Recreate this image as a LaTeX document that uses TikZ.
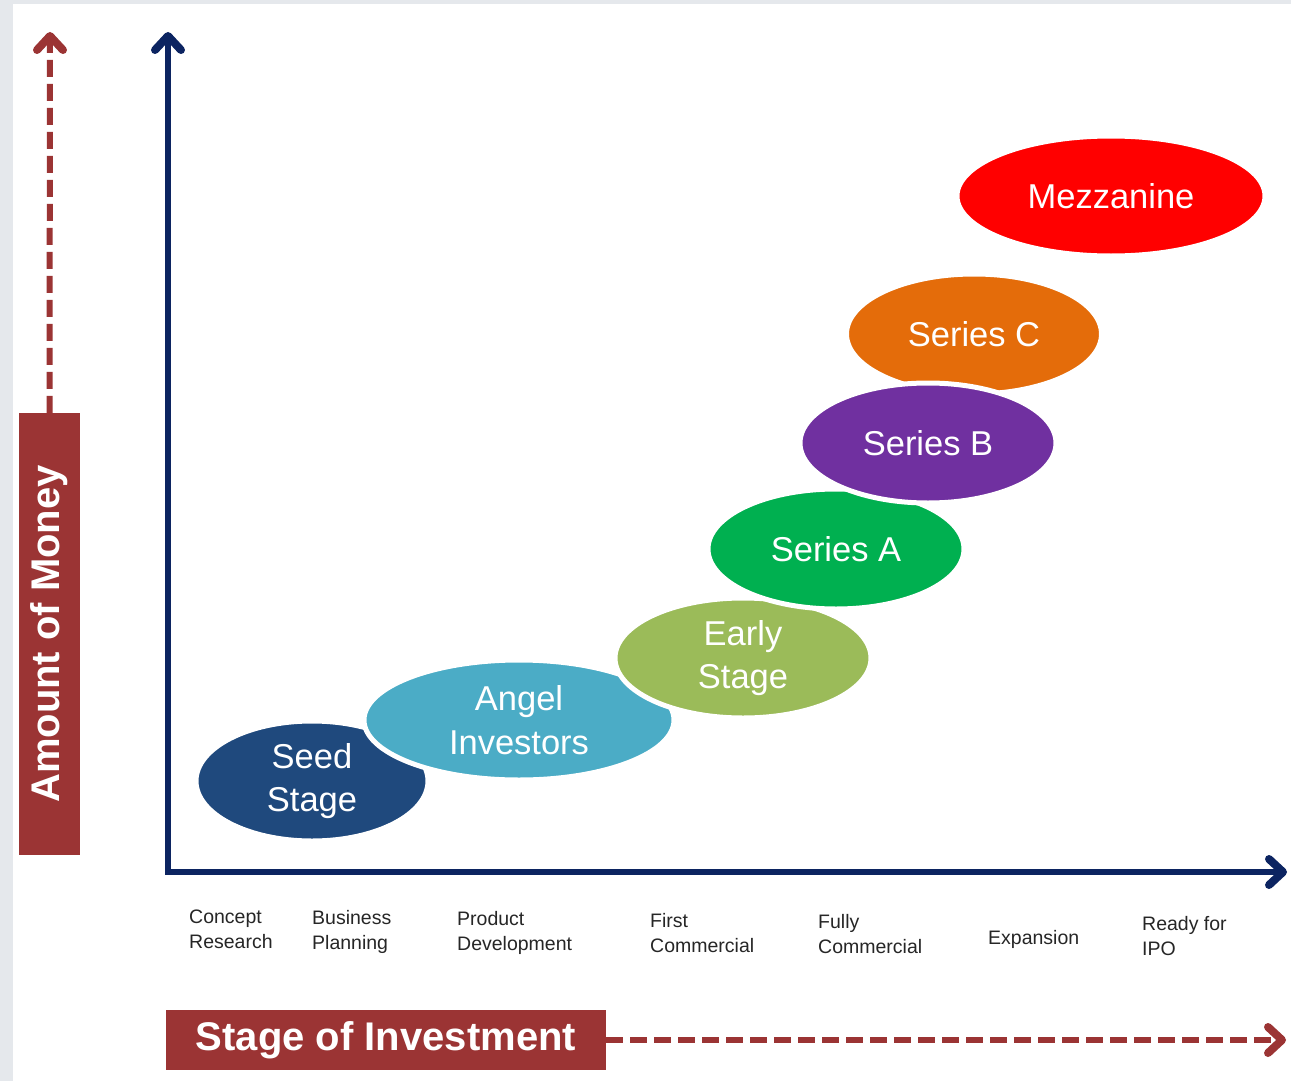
\documentclass[tikz,border=0pt]{standalone}
\usepackage{fontspec}
\setmainfont{Liberation Sans}
\usetikzlibrary{shapes.geometric,arrows.meta}
\definecolor{navy}{RGB}{12,36,97}
\definecolor{brick}{RGB}{155,52,52}
\definecolor{seedc}{RGB}{31,73,125}
\definecolor{angelc}{RGB}{75,172,198}
\definecolor{earlyc}{RGB}{155,187,89}
\definecolor{seriesac}{RGB}{0,176,80}
\definecolor{seriesbc}{RGB}{112,48,160}
\definecolor{seriescc}{RGB}{228,108,10}
\definecolor{mezzc}{RGB}{255,0,0}
\definecolor{labelc}{RGB}{38,38,38}
\definecolor{edgec}{RGB}{229,232,236}
\newcommand{\myfs}[2]{\fontsize{#1}{#2}\selectfont}
\begin{document}
\begin{tikzpicture}[x=1pt,y=-1pt,
  bubble/.style={ellipse, draw=white, line width=5pt, inner sep=0pt, text=white,
    align=center, font=\myfs{34.5}{43.5}},
  stagelbl/.style={anchor=west, inner sep=0pt, align=left, text=labelc,
    font=\myfs{19.5}{25}},
  titlebox/.style={fill=brick, text=white, inner sep=0pt, font=\bfseries\myfs{40}{48}},
  axis/.style={draw=navy, line width=5.5pt, line join=miter, shorten <=4pt, shorten >=4pt},
  dashline/.style={draw=brick, line width=6pt, dash pattern=on 17pt off 7pt, shorten >=4pt},
  chevron/.style={line width=8pt, line cap=round, line join=round}
]
\useasboundingbox (0,0) rectangle (1291,1081);
% background
\fill[edgec] (0,0) rectangle (1291,1081);
\fill[white] (13,4) rectangle (1291,1081);

% axes
\coordinate (ytip) at (168,36);
\coordinate (origin) at (168,872);
\coordinate (xtip) at (1283,872);
\draw[axis] (ytip) -- (origin) -- (xtip);
\draw[chevron, navy] ([shift={(-13,14)}]ytip) -- (ytip) -- ([shift={(13,14)}]ytip);
\draw[chevron, navy] ([shift={(-14,-13)}]xtip) -- (xtip) -- ([shift={(-14,13)}]xtip);

% bubbles (drawing order gives the overlaps)
\node[bubble, fill=seedc,    minimum width=232pt, minimum height=120pt] (seed)  at (312,781)  {Seed\\Stage};
\node[bubble, fill=angelc,   minimum width=310pt, minimum height=120pt] (angel) at (519,720)  {Angel\\Investors};
\node[bubble, fill=earlyc,   minimum width=256pt, minimum height=120pt] (early) at (743,658)  {Early\\Stage};
\node[bubble, fill=seriesac, minimum width=256pt, minimum height=120pt] (sera)  at (836,549)  {Series A};
\node[bubble, fill=seriescc, minimum width=255pt, minimum height=120pt] (serc)  at (974,334)  {Series C};
\node[bubble, fill=seriesbc, minimum width=256pt, minimum height=120pt] (serb)  at (928,443)  {Series B};
\node[bubble, fill=mezzc,    minimum width=308pt, minimum height=120pt] (mezz)  at (1111,196) {Mezzanine};

% stage labels
\node[stagelbl] (s1) at (189,929) {Concept\\Research};
\node[stagelbl] (s2) at (312,932) {Business\\Planning};
\node[stagelbl] (s3) at (457,933) {Product\\Development};
\node[stagelbl] (s4) at (650,933) {First\\Commercial};
\node[stagelbl] (s5) at (818,934) {Fully\\Commercial};
\node[stagelbl] (s6) at (988,939) {Expansion};
\node[stagelbl] (s7) at (1142,936) {Ready for\\IPO};

% title boxes
\node[titlebox, rotate=90, minimum width=442pt, minimum height=61pt] (money) at (49.5,634) {Amount of Money};
\node[titlebox, minimum width=440pt, minimum height=60pt] (stage) at (386,1040) {Stage of Investment};

\coordinate (moneytip) at (50,36);
\coordinate (stagetip) at (1282,1040);
\draw[dashline] (money.east) -- (moneytip);
\draw[dashline] (stage.east) -- (stagetip);
\draw[chevron, brick] ([shift={(-13,14)}]moneytip) -- (moneytip) -- ([shift={(13,14)}]moneytip);
\draw[chevron, brick] ([shift={(-14,-13)}]stagetip) -- (stagetip) -- ([shift={(-14,13)}]stagetip);
\end{tikzpicture}
\end{document}
